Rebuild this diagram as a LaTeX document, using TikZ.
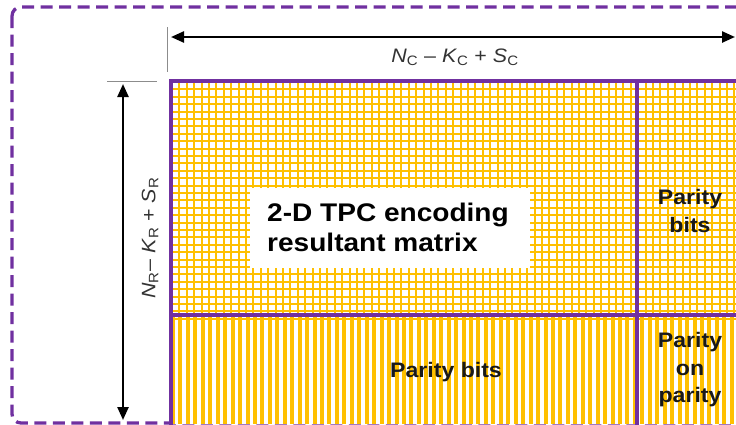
\documentclass[tikz,border=0pt]{standalone}
\usepackage{fontspec}
\setmainfont{Liberation Sans}[FakeStretch=1.1]
\usetikzlibrary{arrows.meta}
\definecolor{tpcpurple}{HTML}{7030A0}
\definecolor{tpcgold}{HTML}{FFC000}
\begin{document}
\begin{tikzpicture}[x=1pt,y=-1pt,
  dimarrow/.style={line width=2.4pt, {Triangle[length=13pt,width=11pt]}-{Triangle[length=13pt,width=11pt]}},
  tickline/.style={draw=black!45, line width=1pt},
  dimlabel/.style={font=\fontsize{19.5}{22}\selectfont, text=black!80, inner sep=0pt},
  paritytext/.style={font=\bfseries\fontsize{21}{27.5}\selectfont, align=center, text=black!90, inner sep=0pt},
  divider/.style={draw=tpcpurple, line width=3.5pt},
]
\useasboundingbox (0,0) rectangle (736,424);
% dashed outer border
\draw[tpcpurple, line width=3.3pt, dash pattern=on 12pt off 6.5pt, rounded corners=9pt] (12,7) rectangle (820,423);
% matrix fills
\begin{scope}
\clip (171,81) rectangle (736,424);
\fill[white] (171,81) rectangle (736,424);
\foreach \i in {0,...,80} { \draw[tpcgold, line width=2.1pt] ({172+7.4*\i},81) -- ({172+7.4*\i},315); }
\foreach \j in {0,...,32} { \draw[tpcgold, line width=2.1pt] (171,{82+7.4*\j}) -- (736,{82+7.4*\j}); }
\foreach \i in {0,...,80} { \fill[tpcgold] ({171+7.45*\i},315) rectangle ({175+7.45*\i},424); }
\end{scope}
% purple borders and dividers
\draw[divider] (171,430) -- (171,81) -- (745,81);
\draw[divider] (637,81) -- (637,430);
\draw[divider] (171,315) -- (745,315);
% main label box
\node[fill=white, minimum width=280pt, minimum height=80pt, inner sep=0pt] (mainbox) at (390,228) {};
\node[font=\bfseries\fontsize{25.5}{30}\selectfont, align=left, inner sep=0pt] (maintext) at (388,227) {2-D TPC encoding\\resultant matrix};
% parity labels
\node[paritytext] (pbitsright) at (690,211) {Parity\\bits};
\node[paritytext] (pbitsbottom) at (446,372) {Parity bits};
\node[paritytext] (ponp) at (690,370) {Parity\\on\\parity};
% dimension lines
\coordinate (htick1) at (167,27);
\coordinate (htick2) at (167,72);
\draw[tickline] (htick1) -- (htick2);
\coordinate (hleft) at (171,37);
\coordinate (hright) at (735,37);
\draw[dimarrow] (hleft) -- (hright);
\node[dimlabel] (hlabel) at (455,57) {\textit{N}\textsubscript{C} – \textit{K}\textsubscript{C} + \textit{S}\textsubscript{C}};
\coordinate (vtick1) at (107,81);
\coordinate (vtick2) at (157,81);
\draw[tickline] (vtick1) -- (vtick2);
\coordinate (vtop) at (123,84);
\coordinate (vbottom) at (123,420);
\draw[dimarrow] (vtop) -- (vbottom);
\node[dimlabel, rotate=90] (vlabel) at (150,238) {\textit{N}\textsubscript{R}– \textit{K}\textsubscript{R} + \textit{S}\textsubscript{R}};
\end{tikzpicture}
\end{document}
